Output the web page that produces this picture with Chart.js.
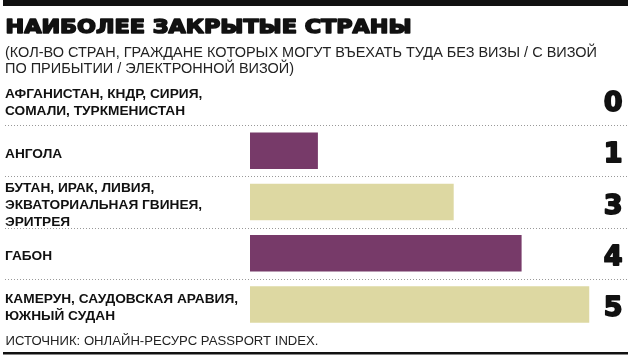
<!DOCTYPE html>
<html lang="ru">
<head>
<meta charset="utf-8">
<title>Наиболее закрытые страны</title>
<script src="https://cdn.jsdelivr.net/npm/chart.js@4/dist/chart.umd.min.js"></script>
<style>
  html, body { margin: 0; padding: 0; background: #ffffff; overflow: hidden; }
  canvas { display: block; }
</style>
</head>
<body>
<canvas id="c" width="630" height="355"></canvas>
<script>
// ---- data ----
const categories = [
  ["АФГАНИСТАН, КНДР, СИРИЯ,", "СОМАЛИ, ТУРКМЕНИСТАН"],
  ["АНГОЛА"],
  ["БУТАН, ИРАК, ЛИВИЯ,", "ЭКВАТОРИАЛЬНАЯ ГВИНЕЯ,", "ЭРИТРЕЯ"],
  ["ГАБОН"],
  ["КАМЕРУН, САУДОВСКАЯ АРАВИЯ,", "ЮЖНЫЙ СУДАН"]
];
const values = [0, 1, 3, 4, 5];
const titleText = "НАИБОЛЕЕ ЗАКРЫТЫЕ СТРАНЫ";
const subtitleLines = [
  "(КОЛ-ВО СТРАН, ГРАЖДАНЕ КОТОРЫХ МОГУТ ВЪЕХАТЬ ТУДА БЕЗ ВИЗЫ / С ВИЗОЙ",
  "ПО ПРИБЫТИИ / ЭЛЕКТРОННОЙ ВИЗОЙ)"
];
const sourceText = "ИСТОЧНИК: ОНЛАЙН-РЕСУРС PASSPORT INDEX.";

// ---- styles ----
const PURPLE = '#773A69';
const KHAKI = '#DDD8A2';
const barColors = [KHAKI, PURPLE, KHAKI, PURPLE, KHAKI];
const INK = '#111111';

function drawStretched(ctx, text, x, y, width, strokeW) {
  const w = ctx.measureText(text).width;
  ctx.save();
  ctx.translate(x, y);
  ctx.scale(width / w, 1);
  if (strokeW) { ctx.lineWidth = strokeW; ctx.lineJoin = 'round'; ctx.strokeText(text, 0, 0); }
  ctx.fillText(text, 0, 0);
  ctx.restore();
  return width / w;
}

const decor = {
  id: 'decor',
  beforeDatasetsDraw(chart) {
    const ctx = chart.ctx;
    const ys = chart.scales.y;
    ctx.save();
    ctx.strokeStyle = '#999999';
    ctx.lineWidth = 1;
    ctx.setLineDash([1, 2]);
    for (let i = 0; i < categories.length - 1; i++) {
      const py = Math.round((ys.getPixelForValue(i) + ys.getPixelForValue(i + 1)) / 2) + 0.5;
      ctx.beginPath();
      ctx.moveTo(5, py);
      ctx.lineTo(628, py);
      ctx.stroke();
    }
    ctx.restore();
  },
  afterDraw(chart) {
    const ctx = chart.ctx;
    ctx.save();
    // top rule & bottom rule
    ctx.fillStyle = INK;
    ctx.fillRect(3, 0, 625, 6);
    ctx.fillRect(3, 352, 625, 2.5);

    // title
    ctx.fillStyle = INK; ctx.strokeStyle = INK;
    ctx.textAlign = 'left'; ctx.textBaseline = 'alphabetic';
    ctx.font = 'bold 19.5px "DejaVu Sans"';
    drawStretched(ctx, titleText, 5.5, 32.5, 406, 1.6);

    // subtitle
    ctx.fillStyle = '#222222';
    ctx.font = '14px "Liberation Sans"';
    const w1 = ctx.measureText(subtitleLines[0]).width;
    const k = 592 / w1;
    subtitleLines.forEach((line, i) => {
      const w = ctx.measureText(line).width;
      drawStretched(ctx, line, 5, 56.5 + i * 16, w * k, 0);
    });

    // source
    ctx.font = '12.5px "Liberation Sans"';
    drawStretched(ctx, sourceText, 5.5, 344.5, 313, 0);

    // value labels
    const meta = chart.getDatasetMeta(0);
    ctx.fillStyle = INK; ctx.strokeStyle = INK;
    ctx.font = 'bold 27px "DejaVu Sans"';
    ctx.textAlign = 'right';
    meta.data.forEach((bar, i) => {
      const t = String(values[i]);
      ctx.lineWidth = 1.8; ctx.lineJoin = 'round';
      ctx.strokeText(t, 622.5, bar.y + 11.5);
      ctx.fillText(t, 622.5, bar.y + 11.5);
    });
    ctx.restore();
  }
};

new Chart(document.getElementById('c'), {
  type: 'bar',
  data: {
    labels: categories,
    datasets: [{
      data: values,
      backgroundColor: barColors,
      borderWidth: 0,
      barPercentage: 0.713,
      categoryPercentage: 1
    }]
  },
  options: {
    indexAxis: 'y',
    responsive: false,
    animation: false,
    events: [],
    layout: { padding: { left: 5, right: 40.5, top: 74, bottom: 25 } },
    plugins: {
      legend: { display: false },
      title: { display: false },
      tooltip: { enabled: false }
    },
    scales: {
      x: {
        display: false,
        min: 0,
        max: 5
      },
      y: {
        position: 'left',
        grid: { display: false },
        border: { display: false },
        afterFit: (scale) => { scale.width = 245; },
        ticks: {
          autoSkip: false,
          crossAlign: 'far',
          labelOffset: 3,
          color: INK,
          font: { family: '"Liberation Sans", Arial, sans-serif', size: 13.7, weight: 'bold', lineHeight: 17 / 13.7 }
        }
      }
    }
  },
  plugins: [decor]
});
</script>
</body>
</html>
